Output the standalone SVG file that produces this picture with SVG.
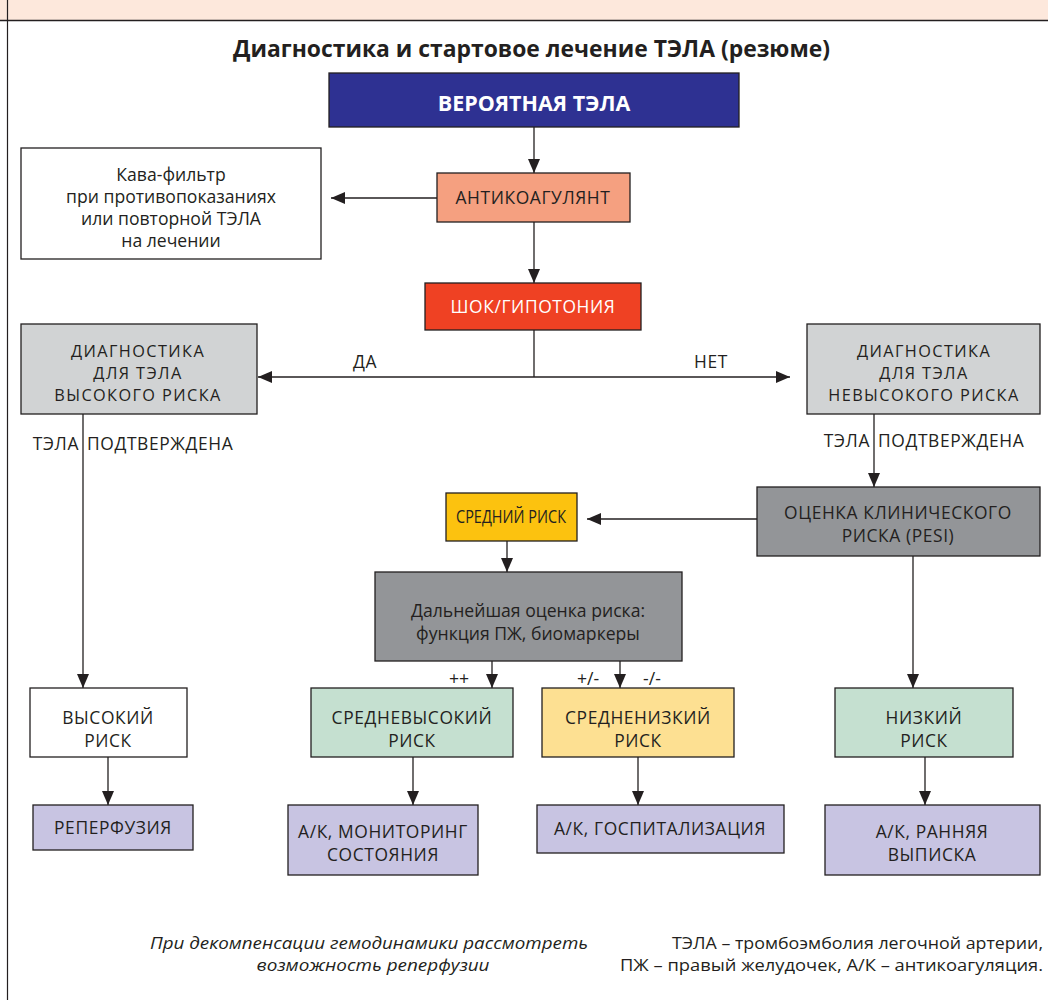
<svg xmlns="http://www.w3.org/2000/svg" width="1048" height="1000" viewBox="0 0 1048 1000">
<defs>
<marker id="ah" viewBox="0 0 14 12" refX="14" refY="6" markerWidth="14" markerHeight="12" markerUnits="userSpaceOnUse" orient="auto-start-reverse">
<path d="M0,0 L14,6 L0,12 z" fill="#231f20"/>
</marker>
</defs>
<style>
.b{stroke:#231f20;stroke-width:1.3}
.t{font-family:"Open Sans","Noto Sans","DejaVu Sans",sans-serif;font-size:17.4px;letter-spacing:0.6px;fill:#231f20;text-anchor:middle}
.l{font-size:17.6px;letter-spacing:0}
.d{font-size:16.3px;letter-spacing:1.4px}
.c{stroke:#231f20;stroke-width:1.3;fill:none}
.a{marker-end:url(#ah)}
.f{font-family:"Open Sans","Noto Sans",sans-serif;font-size:17px;fill:#231f20}
</style>
<rect x="0" y="0" width="1048" height="20" fill="#fde8dc"/>
<line x1="0" y1="20.5" x2="1048" y2="20.5" stroke="#231f20" stroke-width="1.5"/>
<line x1="7.5" y1="0" x2="7.5" y2="1000" stroke="#231f20" stroke-width="1.2"/>
<text x="531.5" y="57" font-family="'Open Sans','Noto Sans',sans-serif" font-size="22.5" font-weight="bold" fill="#231f20" text-anchor="middle" textLength="597" lengthAdjust="spacingAndGlyphs">Диагностика и стартовое лечение ТЭЛА (резюме)</text>

<g id="connectors">
<line class="c a" x1="534" y1="127" x2="534" y2="173"/>
<line class="c a" x1="437" y1="198" x2="331" y2="198"/>
<line class="c a" x1="534" y1="222" x2="534" y2="283"/>
<line class="c" x1="534" y1="330" x2="534" y2="377"/>
<line class="c a" x1="258" y1="377" x2="790" y2="377" style="marker-start:url(#ah)"/>
<line class="c a" x1="83" y1="414" x2="83" y2="688"/>
<line class="c a" x1="874" y1="414" x2="874" y2="487"/>
<line class="c a" x1="757" y1="519" x2="587" y2="519"/>
<line class="c a" x1="507" y1="541" x2="507" y2="572"/>
<line class="c a" x1="492" y1="661" x2="492" y2="688"/>
<line class="c a" x1="620" y1="661" x2="620" y2="688"/>
<line class="c a" x1="913" y1="556" x2="913" y2="688"/>
<line class="c a" x1="108" y1="757" x2="108" y2="805"/>
<line class="c a" x1="413" y1="757" x2="413" y2="805"/>
<line class="c a" x1="638" y1="757" x2="638" y2="805"/>
<line class="c a" x1="925" y1="757" x2="925" y2="805"/>
<text class="t" x="365" y="368">ДА</text>
<text class="t" x="711" y="368">НЕТ</text>
<text class="t" x="79" y="450" style="text-anchor:end">ТЭЛА</text>
<text class="t" x="87" y="450" style="text-anchor:start">ПОДТВЕРЖДЕНА</text>
<text class="t" x="870" y="447" style="text-anchor:end">ТЭЛА</text>
<text class="t" x="878" y="447" style="text-anchor:start">ПОДТВЕРЖДЕНА</text>
<text class="t l" x="459" y="685">++</text>
<text class="t l" x="588" y="685">+/-</text>
<text class="t l" x="652" y="685">-/-</text>
</g>

<g id="n-probable">
<rect class="b" x="329" y="73" width="410" height="54" fill="#2e3192"/>
<text class="t" x="534" y="111" style="fill:#fff;font-size:21.5px;font-weight:bold;letter-spacing:0">ВЕРОЯТНАЯ ТЭЛА</text>
</g>
<g id="n-cava">
<rect class="b" x="21" y="148" width="300" height="111" fill="#fff"/>
<text class="t l" x="171" y="181">Кава-фильтр</text>
<text class="t l" x="171" y="203">при противопоказаниях</text>
<text class="t l" x="171" y="225">или повторной ТЭЛА</text>
<text class="t l" x="171" y="247">на лечении</text>
</g>
<g id="n-anticoag">
<rect class="b" x="437" y="173" width="193" height="49" fill="#f5a080"/>
<text class="t" x="533" y="204">АНТИКОАГУЛЯНТ</text>
</g>
<g id="n-shock">
<rect class="b" x="425" y="283" width="216" height="47" fill="#ef4123"/>
<text class="t" x="533" y="313" style="fill:#fff">ШОК/ГИПОТОНИЯ</text>
</g>
<g id="n-diag-high">
<rect class="b" x="21" y="324" width="236" height="90" fill="#d1d3d4"/>
<text class="t d" x="138" y="357">ДИАГНОСТИКА</text>
<text class="t d" x="138" y="379">ДЛЯ ТЭЛА</text>
<text class="t d" x="138" y="401">ВЫСОКОГО РИСКА</text>
</g>
<g id="n-diag-nonhigh">
<rect class="b" x="807" y="324" width="233" height="90" fill="#d1d3d4"/>
<text class="t d" x="924" y="357">ДИАГНОСТИКА</text>
<text class="t d" x="924" y="379">ДЛЯ ТЭЛА</text>
<text class="t d" x="924" y="401">НЕВЫСОКОГО РИСКА</text>
</g>
<g id="n-pesi">
<rect class="b" x="757" y="487" width="283" height="69" fill="#939598"/>
<text class="t" x="898" y="519">ОЦЕНКА КЛИНИЧЕСКОГО</text>
<text class="t" x="898" y="542">РИСКА (PESI)</text>
</g>
<g id="n-intermediate">
<rect class="b" x="446" y="493" width="131" height="48" fill="#fcc20f"/>
<text class="t" x="511" y="523" textLength="110" lengthAdjust="spacingAndGlyphs" style="letter-spacing:0">СРЕДНИЙ РИСК</text>
</g>
<g id="n-further">
<rect class="b" x="375" y="572" width="307" height="89" fill="#939598"/>
<text class="t l" x="528" y="617">Дальнейшая оценка риска:</text>
<text class="t l" x="528" y="640">функция ПЖ, биомаркеры</text>
</g>
<g id="n-high">
<rect class="b" x="30" y="688" width="157" height="69" fill="#fff"/>
<text class="t" x="108" y="724">ВЫСОКИЙ</text>
<text class="t" x="108" y="747">РИСК</text>
</g>
<g id="n-inthigh">
<rect class="b" x="311" y="688" width="202" height="69" fill="#c5e0d0"/>
<text class="t" x="412" y="724">СРЕДНЕВЫСОКИЙ</text>
<text class="t" x="412" y="747">РИСК</text>
</g>
<g id="n-intlow">
<rect class="b" x="542" y="688" width="192" height="69" fill="#fde092"/>
<text class="t" x="638" y="724">СРЕДНЕНИЗКИЙ</text>
<text class="t" x="638" y="747">РИСК</text>
</g>
<g id="n-low">
<rect class="b" x="835" y="688" width="178" height="69" fill="#c5e0d0"/>
<text class="t" x="924" y="724">НИЗКИЙ</text>
<text class="t" x="924" y="747">РИСК</text>
</g>
<g id="n-reperf">
<rect class="b" x="33" y="805" width="160" height="45" fill="#c8c4e2"/>
<text class="t" x="113" y="834">РЕПЕРФУЗИЯ</text>
</g>
<g id="n-monitor">
<rect class="b" x="288" y="805" width="190" height="70" fill="#c8c4e2"/>
<text class="t" x="383" y="838">А/К, МОНИТОРИНГ</text>
<text class="t" x="383" y="861">СОСТОЯНИЯ</text>
</g>
<g id="n-hosp">
<rect class="b" x="537" y="805" width="247" height="48" fill="#c8c4e2"/>
<text class="t" x="660" y="835">А/К, ГОСПИТАЛИЗАЦИЯ</text>
</g>
<g id="n-discharge">
<rect class="b" x="825" y="805" width="215" height="70" fill="#c8c4e2"/>
<text class="t" x="932" y="838">А/К, РАННЯЯ</text>
<text class="t" x="932" y="861">ВЫПИСКА</text>
</g>
<g id="footer">
<text class="f" x="369" y="949" text-anchor="middle" font-style="italic" textLength="438" lengthAdjust="spacingAndGlyphs">При декомпенсации гемодинамики рассмотреть</text>
<text class="f" x="373" y="971" text-anchor="middle" font-style="italic" textLength="233" lengthAdjust="spacingAndGlyphs">возможность реперфузии</text>
<text class="f" x="1043" y="949" text-anchor="end" textLength="371" lengthAdjust="spacingAndGlyphs">ТЭЛА – тромбоэмболия легочной артерии,</text>
<text class="f" x="1043" y="971" text-anchor="end" textLength="423" lengthAdjust="spacingAndGlyphs">ПЖ – правый желудочек, А/К – антикоагуляция.</text>
</g>
</svg>
